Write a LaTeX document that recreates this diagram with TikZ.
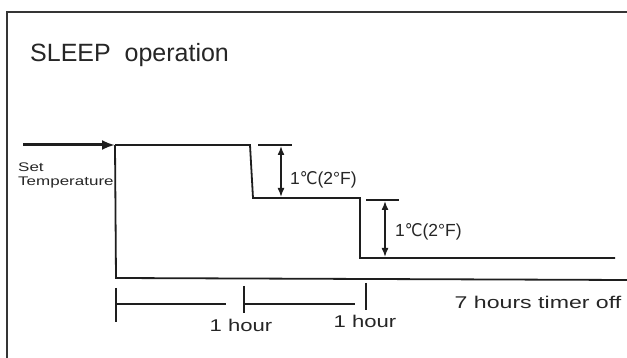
\documentclass[tikz,border=0pt]{standalone}
\usepackage{fontspec}
\setmainfont{Liberation Sans}
\newfontfamily\djv{DejaVu Sans}
\usetikzlibrary{arrows.meta}
\definecolor{ink}{HTML}{1E1E1E}
\definecolor{txt}{HTML}{262626}
\newcommand{\wide}[2][1.3]{\scalebox{#1}[1]{#2}}
\newcommand{\degc}{{\djv\scalebox{0.9}[1]{℃}}}
\begin{document}
\begin{tikzpicture}[x=1pt,y=-1pt,
  frame/.style={draw=ink!90, line width=2.2pt},
  curve/.style={draw=ink, line width=1.8pt},
  thin/.style={draw=ink, line width=1.5pt},
  setarrow/.style={draw=ink, line width=3pt, -{Latex[length=13pt,width=10pt]}},
  dimarrow/.style={draw=ink, line width=1.5pt, {Latex[length=9pt,width=7pt]}-{Latex[length=9pt,width=7pt]}},
  lbl/.style={inner sep=0pt, text=txt},
  ]
\useasboundingbox (0,0) rectangle (627,358);
\fill[white] (0,0) rectangle (627,358);
% frame
\coordinate (fr1) at (627,12);
\coordinate (fr2) at (7,12);
\coordinate (fr3) at (7,358);
\draw[frame] (fr1) -- (fr2) -- (fr3);
% title
\node[lbl, anchor=base west, font=\fontsize{25}{30}\selectfont] (title) at (30,62) {SLEEP\ \ operation};
% set temperature arrow and labels
\coordinate (a0) at (23,145);
\coordinate (a1) at (115,145);
\draw[setarrow] (a0) -- (a1);
\node[lbl, anchor=west, font=\fontsize{12.5}{14}\selectfont] (set) at (18,167) {\wide[1.36]{Set}};
\node[lbl, anchor=west, font=\fontsize{12.5}{14}\selectfont] (temp) at (18,182) {\wide[1.36]{Temperature}};
% temperature profile
\coordinate (p0) at (115,145);
\coordinate (p1) at (250,145);
\coordinate (p2) at (253,198);
\coordinate (p3) at (360,198);
\coordinate (p4) at (360,258);
\coordinate (p5) at (615,258);
\draw[curve] (p0) -- (p1) -- (p2) -- (p3) -- (p4) -- (p5);
\coordinate (b0) at (116,278);
\coordinate (b1) at (627,280);
\draw[curve] (p0) -- (b0) -- (b1);
% dimension 1
\coordinate (t1a) at (258,145);
\coordinate (t1b) at (292,145);
\draw[thin] (t1a) -- (t1b);
\coordinate (d1a) at (281,146);
\coordinate (d1b) at (281,197);
\draw[dimarrow] (d1a) -- (d1b);
\node[lbl, anchor=west, font=\fontsize{17.5}{20}\selectfont] (l1) at (290,180) {1\degc(2°F)};
% dimension 2
\coordinate (t2a) at (366,200);
\coordinate (t2b) at (399,200);
\draw[thin] (t2a) -- (t2b);
\coordinate (d2a) at (385,201);
\coordinate (d2b) at (385,257);
\draw[dimarrow] (d2a) -- (d2b);
\node[lbl, anchor=west, font=\fontsize{17.5}{20}\selectfont] (l2) at (395,232) {1\degc(2°F)};
% timing
\coordinate (k1a) at (116,288); \coordinate (k1b) at (116,322);
\coordinate (k2a) at (244,286); \coordinate (k2b) at (244,313);
\coordinate (k3a) at (366,283); \coordinate (k3b) at (366,310);
\draw[thin] (k1a) -- (k1b);
\draw[thin] (k2a) -- (k2b);
\draw[thin] (k3a) -- (k3b);
\coordinate (h1a) at (116,304); \coordinate (h1b) at (226,304);
\coordinate (h2a) at (244,304); \coordinate (h2b) at (355,304);
\draw[thin] (h1a) -- (h1b);
\draw[thin] (h2a) -- (h2b);
\node[lbl, font=\fontsize{17}{20}\selectfont] (hr1) at (241,325) {\wide{1 hour}};
\node[lbl, font=\fontsize{17}{20}\selectfont] (hr2) at (365,321) {\wide{1 hour}};
\node[lbl, font=\fontsize{17}{20}\selectfont] (off) at (538,302) {\wide[1.36]{7 hours timer off}};
\end{tikzpicture}
\end{document}
